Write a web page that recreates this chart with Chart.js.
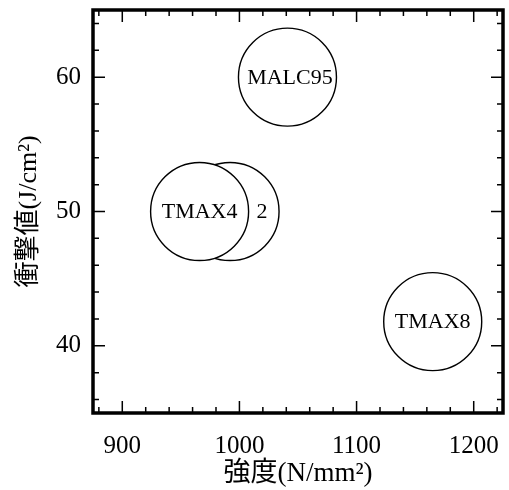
<!DOCTYPE html>
<html>
<head>
<meta charset="utf-8">
<script src="https://cdn.jsdelivr.net/npm/chart.js@4.4.0/dist/chart.umd.min.js"></script>
<style>html,body{margin:0;padding:0;background:#fff}canvas{display:block}</style>
</head>
<body>
<canvas id="c" width="509" height="490"></canvas>
<script>
// ── данные ────────────────────────────────
const materials = ['TMAX4', 'TMAX42', 'MALC95', 'TMAX8']
const labelText = ['TMAX4', '2', 'MALC95', 'TMAX8']
const strength  = [966, 992, 1041, 1165]
const impact    = [50, 50, 60, 41.8]
const xTicks    = [900, 1000, 1100, 1200]
const yTicks    = [40, 50, 60]

const SERIF = "'Liberation Serif', 'Times New Roman', serif"
const CJK   = "'Liberation Serif', 'Noto Sans CJK JP', serif"
const R = 49
const labelShift = [0, 0.65, 0.05, 0]   // доля радиуса, сдвиг подписи вправо

// рамка + внутренние засечки на всех сторонах
const framePlugin = {
  id: 'frame',
  afterDraw(chart) {
    const { ctx, chartArea: a, scales: { x, y } } = chart
    ctx.save()
    ctx.strokeStyle = '#000'
    ctx.lineWidth = 1.5
    ctx.beginPath()
    for (let v = 880; v <= x.max; v += 20) {
      const px = x.getPixelForValue(v)
      const len = xTicks.includes(v) ? 12 : 6
      ctx.moveTo(px, a.bottom); ctx.lineTo(px, a.bottom - len)
      ctx.moveTo(px, a.top);    ctx.lineTo(px, a.top + len)
    }
    for (let v = 36; v <= y.max; v += 2) {
      const py = y.getPixelForValue(v)
      const len = yTicks.includes(v) ? 12 : 6
      ctx.moveTo(a.left, py);  ctx.lineTo(a.left + len, py)
      ctx.moveTo(a.right, py); ctx.lineTo(a.right - len, py)
    }
    ctx.stroke()
    ctx.lineWidth = 3.5
    ctx.strokeRect(a.left, a.top, a.right - a.left, a.bottom - a.top)
    ctx.restore()
  }
}

// подпись внутри каждого круга, сразу после его отрисовки
const labelPlugin = {
  id: 'circleLabels',
  afterDatasetDraw(chart, args) {
    const i = args.index
    const pt = args.meta.data[0]
    const ctx = chart.ctx
    ctx.save()
    ctx.fillStyle = '#000'
    ctx.font = '22px ' + SERIF
    ctx.textAlign = 'center'
    ctx.textBaseline = 'middle'
    ctx.fillText(labelText[i], pt.x + labelShift[i] * R, pt.y + 1)
    ctx.restore()
  }
}

const noPad = s => { s.paddingTop = s.paddingBottom = s.paddingLeft = s.paddingRight = 0 }

new Chart(document.getElementById('c'), {
  type: 'scatter',
  data: {
    datasets: materials.map((m, i) => ({
      label: m,
      data: [{ x: strength[i], y: impact[i] }],
      pointRadius: R, pointHoverRadius: R,
      backgroundColor: '#fff', borderColor: '#000', borderWidth: 1.4
    }))
  },
  options: {
    responsive: false, animation: false, events: [],
    layout: { autoPadding: false, padding: { top: 10, right: 6, left: 0, bottom: 0 } },
    plugins: { legend: { display: false }, tooltip: { enabled: false } },
    scales: {
      x: {
        type: 'linear', min: 875, max: 1225,
        afterBuildTicks: s => { s.ticks = xTicks.map(v => ({ value: v })) },
        afterFit: s => { s.height = 77; noPad(s) },
        grid: { display: false, drawTicks: false }, border: { display: false },
        ticks: { color: '#000', font: { family: SERIF, size: 25 }, padding: 18, maxRotation: 0, callback: v => String(v) },
        title: { display: true, text: '強度(N/mm²)', color: '#000', font: { family: CJK, size: 27 }, padding: { top: 0, bottom: 0 } }
      },
      y: {
        type: 'linear', min: 35, max: 65,
        afterBuildTicks: s => { s.ticks = yTicks.map(v => ({ value: v })) },
        afterFit: s => { s.width = 93; noPad(s) },
        grid: { display: false, drawTicks: false }, border: { display: false },
        ticks: { color: '#000', font: { family: SERIF, size: 25 }, padding: 12, callback: v => String(v) },
        title: { display: true, text: '衝撃値(J/cm²)', color: '#000', font: { family: CJK, size: 26 }, padding: { top: 14, bottom: 0 } }
      }
    }
  },
  plugins: [framePlugin, labelPlugin]
})
</script>
</body>
</html>
